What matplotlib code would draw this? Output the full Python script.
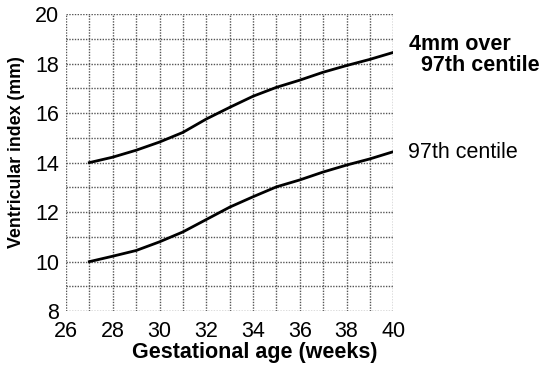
import matplotlib.pyplot as plt

plt.rcParams["font.family"] = ["Liberation Sans", "DejaVu Sans"]

weeks = [27, 28, 29, 30, 31, 32, 33, 34, 35, 36, 37, 38, 39, 40]
over_97th = [14.0, 14.22, 14.5, 14.83, 15.22, 15.76, 16.23, 16.68, 17.04, 17.33, 17.65, 17.92, 18.17, 18.45]
centile_97th = [10.0, 10.22, 10.45, 10.8, 11.2, 11.7, 12.2, 12.62, 13.02, 13.3, 13.62, 13.9, 14.15, 14.44]

fig = plt.figure(figsize=(5.5, 3.7), dpi=100)
ax = fig.add_axes([0.12, 0.159, 0.595, 0.803])

ax.plot(weeks, over_97th, color="black", linewidth=2.0)
ax.plot(weeks, centile_97th, color="black", linewidth=2.0)

ax.set_xlim(26, 40)
ax.set_ylim(8, 20)
ax.set_xticks(range(26, 41, 2))
ax.set_yticks(range(8, 21, 2))
ax.set_xticks(range(26, 41), minor=True)
ax.set_yticks(range(8, 21), minor=True)
ax.grid(which="both", color="#555555", linestyle=(0, (1, 1)), linewidth=1.0)
ax.tick_params(which="both", length=0, labelsize=15.5)
ax.tick_params(axis="x", pad=7)
ax.tick_params(axis="y", pad=5)
for s in ax.spines.values():
    s.set_visible(False)

ax.set_xlabel("Gestational age (weeks)", fontsize=15.5, fontweight="bold")
ax.set_ylabel("Ventricular index (mm)", fontsize=12.8, fontweight="bold")
# label centres are a little off the axes centre in the original
ax.xaxis.set_label_coords(0.578, -0.105)
ax.yaxis.set_label_coords(-0.125, 0.535)

fig.text(0.744, 0.852, "4mm over\n  97th centile", fontsize=15.5, fontweight="bold",
         va="center", ha="left", linespacing=1.0)
fig.text(0.742, 0.589, "97th centile", fontsize=15.5, va="center", ha="left")

fig.savefig("out.png", dpi=100)
